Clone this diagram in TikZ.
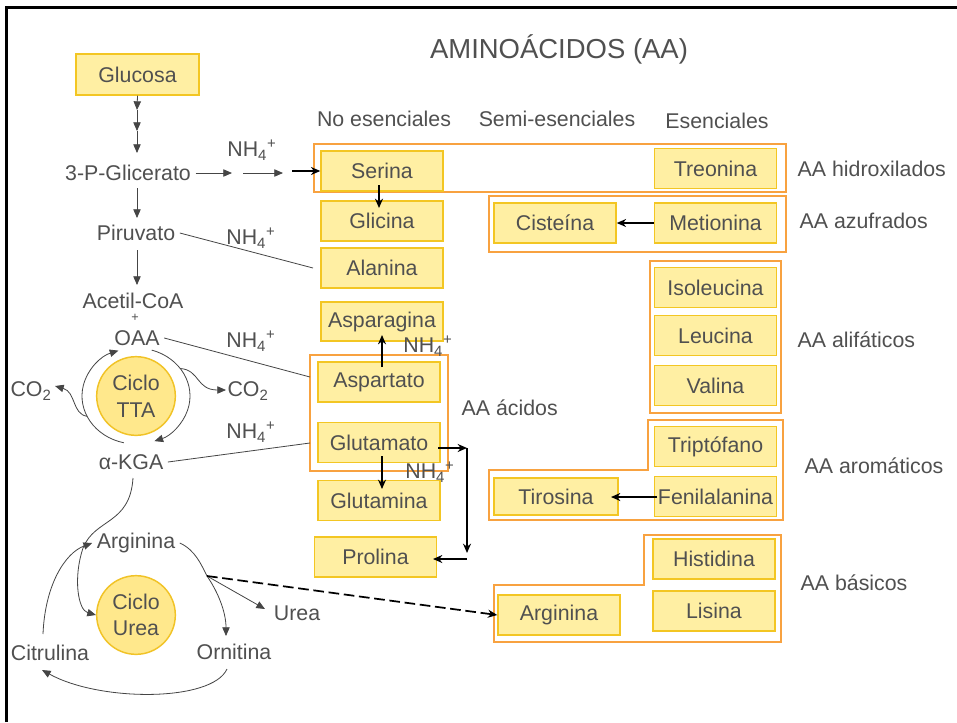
\documentclass[tikz,border=0pt]{standalone}
\usepackage{fontspec}
\setmainfont{Liberation Sans}
\usetikzlibrary{arrows.meta}
\definecolor{txt}{HTML}{505050}
\definecolor{boxfill}{HTML}{FFEFA3}
\definecolor{boxedge}{HTML}{F3C623}
\definecolor{grp}{HTML}{F8A240}
\definecolor{cycfill}{HTML}{FFE88C}
\definecolor{cycedge}{HTML}{F1C327}
\definecolor{conn}{HTML}{454545}
\newcommand{\nhq}{NH\textsubscript{4}\textsuperscript{+}}
\begin{document}
\begin{tikzpicture}[x=0.75pt,y=-0.75pt,
  every node/.style={text=txt, font=\fontsize{16}{19}\selectfont},
  ambox/.style={draw=boxedge, fill=boxfill, line width=1.1pt,
    minimum width=91.5pt, minimum height=30pt, inner sep=0pt},
  group/.style={draw=grp, line width=1.1pt},
  cyc/.style={circle, draw=cycedge, fill=cycfill, line width=1.1pt,
    minimum size=59pt, inner sep=0pt, align=center,
    font=\fontsize{16}{20}\selectfont},
  flow/.style={draw=conn, line width=0.6pt, -{Triangle[length=6.5pt,width=5.5pt]}},
  link/.style={draw=conn, line width=0.6pt},
  strong/.style={draw=black, line width=1.3pt, -{Stealth[length=7pt,width=6pt]}},
]
\useasboundingbox (0,0) rectangle (957,722);
\fill[white] (0,0) rectangle (957,722);
% frame on the left and top edges
\draw[black, line width=2.6pt] (6.5,722) -- (6.5,7.5) -- (957,7.5);

% headings
\node[font=\fontsize{20.6}{24}\selectfont] (title) at (559,49) {AMINOÁCIDOS (AA)};
\node (hne) at (384,119) {No esenciales};
\node (hse) at (557,119) {Semi-esenciales};
\node (hes) at (717,121) {Esenciales};

% group outlines
\draw[group] (314,144) rectangle (786,192);
\draw[group] (489,196) rectangle (786,252);
\draw[group] (310,355) rectangle (448,471);
\draw[group] (650,261) rectangle (781,413);
\draw[group] (648,420) -- (783,420) -- (783,520) -- (489,520) -- (489,470) -- (648,470) -- cycle;
\draw[group] (644,535) -- (781,535) -- (781,642) -- (494,642) -- (494,585) -- (644,585) -- cycle;

% amino acid boxes
\node[ambox, minimum width=92.25pt, minimum height=30.75pt] (glucosa) at (137.5,74.5) {Glucosa};
\node[ambox] (serina) at (382,171) {Serina};
\node[ambox] (glicina) at (382,221) {Glicina};
\node[ambox] (alanina) at (382,268) {Alanina};
\node[ambox, minimum height=29.25pt] (asparagina) at (382,321.5) {Asparagina};
\node[ambox] (aspartato) at (379,382) {Aspartato};
\node[ambox] (glutamato) at (379,442.5) {Glutamato};
\node[ambox] (glutamina) at (379,500.5) {Glutamina};
\node[ambox] (prolina) at (375.5,557) {Prolina};
\node[ambox] (treonina) at (715.5,168.5) {Treonina};
\node[ambox] (metionina) at (715.5,223) {Metionina};
\node[ambox] (cisteina) at (555,223) {Cisteína};
\node[ambox] (isoleucina) at (715.5,287.5) {Isoleucina};
\node[ambox] (leucina) at (715.5,335.5) {Leucina};
\node[ambox] (valina) at (715.5,385.5) {Valina};
\node[ambox] (triptofano) at (715.5,446.5) {Triptófano};
\node[ambox] (fenil) at (715.5,496.5) {Fenilalanina};
\node[ambox, minimum width=93pt, minimum height=27.75pt] (tirosina) at (556,496.5) {Tirosina};
\node[ambox] (histidina) at (714,559) {Histidina};
\node[ambox] (lisina) at (714,611) {Lisina};
\node[ambox] (argbox) at (559,615) {Arginina};

% group labels
\node[anchor=west] (lhid) at (793,169) {AA hidroxilados};
\node[anchor=west] (lazu) at (795,221) {AA azufrados};
\node[anchor=west] (lali) at (793,340) {AA alifáticos};
\node[anchor=west] (laro) at (800,466) {AA aromáticos};
\node[anchor=west] (lbas) at (796,583) {AA básicos};
\node[anchor=west] (laci) at (457,408) {AA ácidos};

% metabolites on the left
\node (glicerato) at (128,173) {3-P-Glicerato};
\node (piruvato) at (136,233) {Piruvato};
\node (acetil) at (133,301) {Acetil-CoA};
\node[font=\fontsize{9.5}{10}\selectfont, inner sep=0pt] (plus) at (135,318) {+};
\node (oaa) at (137,338) {OAA};
\node[cyc] (tta) at (136,396) {Ciclo\\TTA};
\node (akga) at (131,462) {α-KGA};
\node (co2l) at (31,391) {CO\textsubscript{2}};
\node (co2r) at (248,391) {CO\textsubscript{2}};
\node (argl) at (136,543) {Arginina};
\node[cyc] (urea) at (136,615) {Ciclo\\Urea};
\node (ureatxt) at (297,613) {Urea};
\node (ornitina) at (234,652) {Ornitina};
\node (citrulina) at (50,653) {Citrulina};

% ammonium labels
\node (n1) at (252,150) {\nhq};
\node (n2) at (251,238) {\nhq};
\node (n3) at (251,341) {\nhq};
\node (n4) at (251,432) {\nhq};
\node (n5) at (428,346) {\nhq};
\node (n6) at (430,472) {\nhq};

% glycolysis chain
\coordinate (d1) at (137,110);
\coordinate (d2) at (137,131);
\coordinate (d3) at (137,153);
\draw[flow] (glucosa.south) -- (d1);
\draw[flow] (d1) -- (d2);
\draw[flow] (d2) -- (d3);
\coordinate (p1) at (137,188);
\coordinate (p2) at (137,218);
\draw[flow] (p1) -- (p2);
\coordinate (a1) at (137,250);
\coordinate (a2) at (137,285);
\draw[flow] (a1) -- (a2);

% 3-P-Glicerato towards Serina
\coordinate (s1) at (232,173);
\coordinate (s2) at (243,173);
\coordinate (s3) at (283,173);
\coordinate (s4) at (292,171);
\draw[flow] (glicerato.east) -- (s1);
\draw[flow] (s2) -- (s3);
\draw[strong] (s4) -- (serina.west);

% transaminations
\coordinate (alaend) at (313,268);
\coordinate (aspend) at (310,377);
\coordinate (gluend) at (310,443);
\draw[link] (piruvato.east) -- (alaend);
\draw[link] (oaa.east) -- (aspend);
\draw[link] (akga.east) -- (gluend);

% citric acid cycle
\draw[flow] ([shift={(-73:54 and 48)}]tta.center) arc[start angle=-73, end angle=70, x radius=54, y radius=48];
\draw[flow] ([shift={(103:54 and 48)}]tta.center) arc[start angle=103, end angle=251, x radius=54, y radius=48];
\coordinate (co2ltip) at (55,386);
\coordinate (co2rtip) at (226,390);
\draw[flow] ([shift={(155:54 and 48)}]tta.center) .. controls (72,414) and (76,392) .. (co2ltip);
\draw[flow] ([shift={(-35:54 and 48)}]tta.center) .. controls (200,370) and (196,390) .. (co2rtip);

% urea cycle
\coordinate (kgtop) at (133,478);
\draw[flow] (kgtop) .. controls (130,525) and (95,518) .. (83,548)
  .. controls (73,578) and (78,610) .. (urea.west);
\coordinate (citup) at (43,634);
\draw[flow] (citup) .. controls (45,585) and (65,553) .. (argl.west);
\coordinate (fork) at (207,576);
\draw[link] (argl.east) .. controls (195,550) and (201,564) .. (fork);
\coordinate (ureatip) at (265,609);
\coordinate (orntip) at (226,636);
\draw[flow] (fork) -- (ureatip);
\draw[flow] (fork) .. controls (218,592) and (226,612) .. (orntip);
\coordinate (ornbot) at (227,669);
\coordinate (citbot) at (42,670);
\draw[flow] (ornbot) .. controls (212,702) and (100,702) .. (citbot);
\draw[strong, dash pattern=on 8pt off 3.5pt] (fork) -- (argbox.west);

% conversions between amino acids
\coordinate (sg1) at (379,185);
\coordinate (sg2) at (379,208);
\draw[strong] (sg1) -- (sg2);
\coordinate (aa1) at (382,367);
\coordinate (aa2) at (382,335);
\draw[strong] (aa1) -- (aa2);
\coordinate (gg1) at (382,456);
\coordinate (gg2) at (382,489);
\draw[strong] (gg1) -- (gg2);
\coordinate (gstart) at (438,448);
\coordinate (gr) at (467,448);
\coordinate (gd) at (467,553);
\coordinate (gl) at (467,559);
\coordinate (pend) at (433,559);
\draw[strong] (gstart) -- (gr);
\draw[strong] (gr) -- (gd);
\draw[strong] (gl) -- (pend);
\draw[strong] (metionina.west) -- (cisteina.east);
\coordinate (fstart) at (657,497);
\coordinate (tend) at (611,497);
\draw[strong] (fstart) -- (tend);
\end{tikzpicture}
\end{document}
